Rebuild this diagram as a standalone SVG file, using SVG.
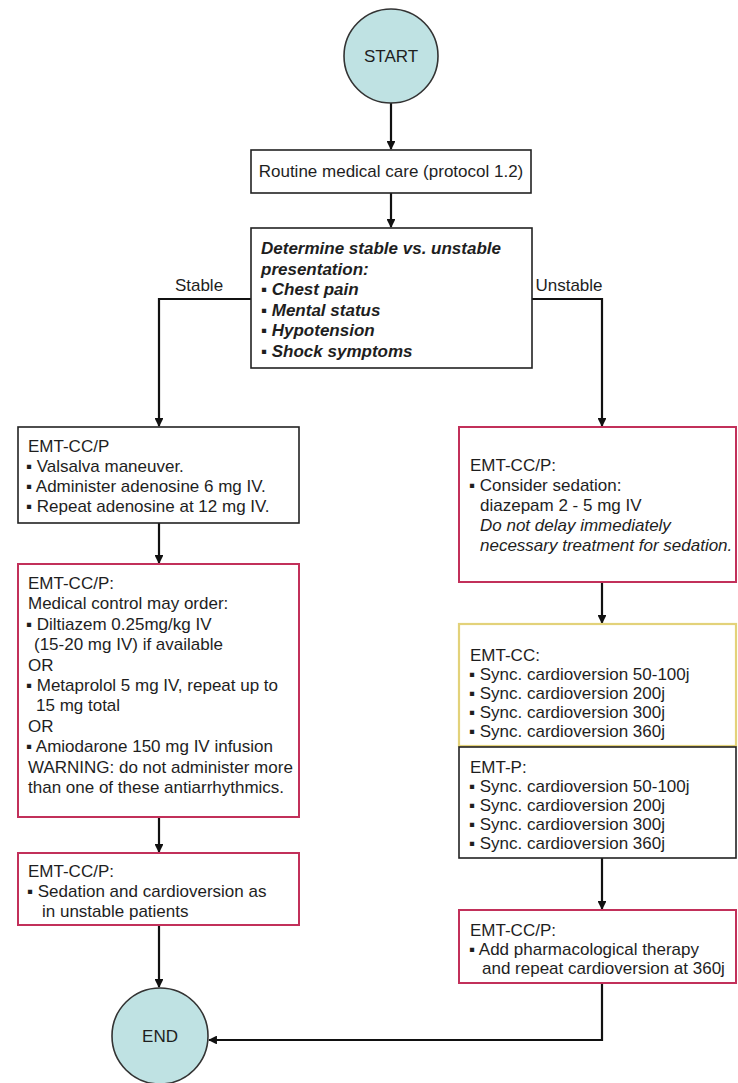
<svg xmlns="http://www.w3.org/2000/svg" width="738" height="1083" viewBox="0 0 738 1083">
<style>
text{font-family:"Liberation Sans",Arial,sans-serif;font-size:17px;fill:#1e1e1e}
.b{font-weight:bold;font-style:italic}
.i{font-style:italic}
.c{text-anchor:middle}
.box{fill:#fff;stroke:#222;stroke-width:1.6}
.red{fill:#fff;stroke:#c2305a;stroke-width:2}
.yel{fill:#fff;stroke:#e3d27a;stroke-width:2.2}
.circ{fill:#bfe2e3;stroke:#333;stroke-width:1.6}
.ln{fill:none;stroke:#111;stroke-width:2.2}
</style>
<defs>
<marker id="ah" viewBox="0 0 10 10" refX="9" refY="5" markerWidth="4" markerHeight="4" orient="auto">
<path d="M0,0 L10,5 L0,10 z" fill="#111"/>
</marker>
</defs>
<rect width="738" height="1083" fill="#fff"/>

<g id="connectors">
<path class="ln" d="M391,103 V149" marker-end="url(#ah)"/>
<path class="ln" d="M391,193 V227" marker-end="url(#ah)"/>
<path class="ln" d="M251,299 H159 V426" marker-end="url(#ah)"/>
<path class="ln" d="M532,299 H602 V426" marker-end="url(#ah)"/>
<path class="ln" d="M159,523 V563" marker-end="url(#ah)"/>
<path class="ln" d="M159,817 V852" marker-end="url(#ah)"/>
<path class="ln" d="M159,925 V987" marker-end="url(#ah)"/>
<path class="ln" d="M602,582 V623" marker-end="url(#ah)"/>
<path class="ln" d="M602,858 V909" marker-end="url(#ah)"/>
<path class="ln" d="M602,983 V1040 H209" marker-end="url(#ah)"/>
<text x="199" y="291" class="c">Stable</text>
<text x="569" y="291" class="c">Unstable</text>
</g>

<g id="start">
<circle class="circ" cx="391" cy="56" r="47"/>
<text x="391" y="62" class="c">START</text>
</g>

<g id="routine">
<rect class="box" x="251" y="150" width="280" height="43"/>
<text x="391" y="177" class="c">Routine medical care (protocol 1.2)</text>
</g>

<g id="decision">
<rect class="box" x="251" y="228" width="281" height="140"/>
<text x="261" y="254" class="b">Determine stable vs. unstable</text>
<text x="261" y="275" class="b">presentation:</text>
<text x="261" y="295" class="b">▪ Chest pain</text>
<text x="261" y="316" class="b">▪ Mental status</text>
<text x="261" y="336" class="b">▪ Hypotension</text>
<text x="261" y="357" class="b">▪ Shock symptoms</text>
</g>

<g id="stable1">
<rect class="box" x="18" y="427" width="281" height="96"/>
<text x="28" y="452">EMT-CC/P</text>
<text x="26" y="472">▪ Valsalva maneuver.</text>
<text x="26" y="492">▪ Administer adenosine 6 mg IV.</text>
<text x="26" y="512">▪ Repeat adenosine at 12 mg IV.</text>
</g>

<g id="stable2">
<rect class="red" x="18" y="564" width="281" height="253"/>
<text x="28" y="589">EMT-CC/P:</text>
<text x="28" y="609">Medical control may order:</text>
<text x="26" y="630">▪ Diltiazem 0.25mg/kg IV</text>
<text x="34" y="650">(15-20 mg IV) if available</text>
<text x="28" y="671">OR</text>
<text x="26" y="691">▪ Metaprolol 5 mg IV, repeat up to</text>
<text x="36" y="711">15 mg total</text>
<text x="28" y="732">OR</text>
<text x="26" y="752">▪ Amiodarone 150 mg IV infusion</text>
<text x="28" y="773">WARNING: do not administer more</text>
<text x="28" y="793">than one of these antiarrhythmics.</text>
</g>

<g id="stable3">
<rect class="red" x="18" y="853" width="281" height="72"/>
<text x="28" y="877">EMT-CC/P:</text>
<text x="27" y="897">▪ Sedation and cardioversion as</text>
<text x="42" y="917">in unstable patients</text>
</g>

<g id="end">
<circle class="circ" cx="160" cy="1036" r="48"/>
<text x="160" y="1042" class="c">END</text>
</g>

<g id="unstable1">
<rect class="red" x="459" y="427" width="277" height="155"/>
<text x="470" y="471">EMT-CC/P:</text>
<text x="469" y="491">▪ Consider sedation:</text>
<text x="480" y="511">diazepam 2 - 5 mg IV</text>
<text x="480" y="531" class="i">Do not delay immediately</text>
<text x="480" y="551" class="i">necessary treatment for sedation.</text>
</g>

<g id="unstable2">
<rect class="yel" x="459" y="624" width="277" height="122"/>
<text x="470" y="661">EMT-CC:</text>
<text x="469" y="680">▪ Sync. cardioversion 50-100j</text>
<text x="469" y="699">▪ Sync. cardioversion 200j</text>
<text x="469" y="718">▪ Sync. cardioversion 300j</text>
<text x="469" y="737">▪ Sync. cardioversion 360j</text>
</g>

<g id="unstable3">
<rect class="box" x="459" y="747" width="277" height="111"/>
<text x="470" y="773">EMT-P:</text>
<text x="469" y="792">▪ Sync. cardioversion 50-100j</text>
<text x="469" y="811">▪ Sync. cardioversion 200j</text>
<text x="469" y="830">▪ Sync. cardioversion 300j</text>
<text x="469" y="849">▪ Sync. cardioversion 360j</text>
</g>

<g id="unstable4">
<rect class="red" x="459" y="910" width="277" height="73"/>
<text x="470" y="936">EMT-CC/P:</text>
<text x="469" y="955">▪ Add pharmacological therapy</text>
<text x="482" y="974">and repeat cardioversion at 360j</text>
</g>
</svg>
